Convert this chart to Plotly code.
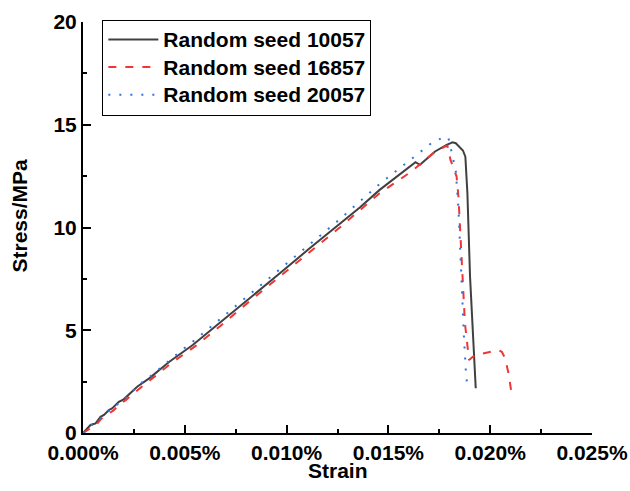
import plotly.graph_objects as go

# Strain in percent, stress in MPa
strain_10057 = [0, 0.00037, 0.00062, 0.00086, 0.00103, 0.00127, 0.00143, 0.00176, 0.002, 0.00266, 0.00325,
                0.00424, 0.00539, 0.0067, 0.00807, 0.00958, 0.01109, 0.01261, 0.01361, 0.01457, 0.01563,
                0.01633, 0.01655, 0.01694, 0.01729, 0.01786, 0.01815, 0.01831, 0.01852, 0.01866, 0.01878,
                0.01888, 0.01901, 0.01917, 0.01929]
stress_10057 = [0, 0.39, 0.47, 0.79, 0.88, 1.12, 1.20, 1.52, 1.64, 2.25, 2.66,
                3.47, 4.28, 5.34, 6.45, 7.70, 8.95, 10.17, 10.98, 11.83, 12.62,
                13.18, 13.05, 13.38, 13.70, 14.02, 14.15, 14.10, 13.86, 13.75, 13.45,
                11.67, 7.61, 4.37, 2.18]

strain_16857 = [0, 0.0004, 0.0007, 0.0009, 0.0012, 0.0015, 0.0018, 0.0021, 0.00272, 0.00333, 0.00434,
                0.00555, 0.00676, 0.00807, 0.00958, 0.01109, 0.01261, 0.01457, 0.01507, 0.01614, 0.01671,
                0.01721, 0.01778, 0.0179, 0.01805, 0.01835, 0.01844, 0.0186, 0.01876, 0.01896, 0.01916,
                0.01933, 0.01999, 0.0204, 0.02057, 0.02073, 0.0209, 0.02103]
stress_16857 = [0, 0.25, 0.45, 0.70, 0.90, 1.10, 1.40, 1.60, 2.12, 2.60, 3.40,
                4.25, 5.22, 6.32, 7.55, 8.78, 10.0, 11.67, 12.0, 12.73, 13.21,
                13.62, 13.94, 13.98, 13.29, 12.48, 11.5, 8.42, 5.34, 3.55, 3.72,
                3.80, 3.96, 4.04, 3.95, 3.64, 2.91, 2.05]

strain_20057 = [0, 0.0004, 0.0007, 0.001, 0.0013, 0.0016, 0.0019, 0.0022, 0.00282, 0.00343, 0.00444,
                0.00565, 0.00686, 0.00807, 0.00958, 0.01109, 0.01261, 0.01457, 0.01523, 0.01614, 0.01711,
                0.01778, 0.01795, 0.0181, 0.01831, 0.01844, 0.01852, 0.0186, 0.01871, 0.01881, 0.01888]
stress_20057 = [0, 0.38, 0.55, 0.85, 1.10, 1.30, 1.60, 1.80, 2.40, 2.85, 3.70,
                4.65, 5.65, 6.62, 7.88, 9.14, 10.4, 12.12, 12.64, 13.32, 14.10,
                14.43, 14.35, 13.70, 12.73, 10.94, 9.07, 6.64, 4.69, 2.91, 2.25]

names = ["Random seed 10057", "Random seed 16857", "Random seed 20057"]
x_title = "Strain"
y_title = "Stress/MPa"

FONT = "Liberation Sans, Arial, sans-serif"
FS = 21


def legend_name(n):
    return '<span style="font-size:21px">' + n + '</span>'


fig = go.Figure()
fig.add_trace(go.Scatter(x=strain_10057, y=stress_10057, mode="lines", name=legend_name(names[0]),
                         line=dict(color="#404040", width=2)))
fig.add_trace(go.Scatter(x=strain_16857, y=stress_16857, mode="lines", name=legend_name(names[1]),
                         line=dict(color="#ef3535", width=2, dash="8px,9px")))
fig.add_trace(go.Scatter(x=strain_20057, y=stress_20057, mode="lines", name=legend_name(names[2]),
                         line=dict(color="#2f73e0", width=2, dash="2px,9px")))

axis_common = dict(
    showline=True, linecolor="black", linewidth=2, mirror=False,
    ticks="inside", ticklen=8, tickwidth=2, tickcolor="black",
    showgrid=False, zeroline=False, automargin=False,
    tickfont=dict(family=FONT, size=FS, color="black", weight="bold"),
)

fig.update_xaxes(range=[0, 0.0250001], dtick=0.005, tick0=0, tickformat=".3f", ticksuffix="%",
                 minor=dict(dtick=0.0025, ticks="inside", ticklen=4, tickwidth=2, tickcolor="black"),
                 **axis_common)
fig.update_yaxes(range=[0, 20.0001], dtick=5, tick0=0,
                 minor=dict(dtick=2.5, ticks="inside", ticklen=4, tickwidth=2, tickcolor="black"),
                 **axis_common)

fig.add_annotation(text=x_title, xref="paper", yref="paper", x=0.5, y=-0.092,
                   xanchor="center", yanchor="middle", showarrow=False,
                   font=dict(family=FONT, size=FS, color="black", weight="bold"))
fig.add_annotation(text=y_title, xref="paper", yref="paper", x=-0.125, y=0.53,
                   xanchor="center", yanchor="middle", showarrow=False, textangle=-90,
                   font=dict(family=FONT, size=FS, color="black", weight="bold"))

fig.update_layout(
    width=630, height=491,
    margin=dict(l=83, r=38, t=22, b=58, autoexpand=False),
    plot_bgcolor="white", paper_bgcolor="white",
    showlegend=True,
    legend=dict(x=0.038, y=1.006, xanchor="left", yanchor="top",
                bordercolor="black", borderwidth=1, bgcolor="white",
                itemwidth=50,
                font=dict(family=FONT, size=19, color="black", weight="bold"),
                tracegroupgap=0),
)

fig.write_html("out.html")
